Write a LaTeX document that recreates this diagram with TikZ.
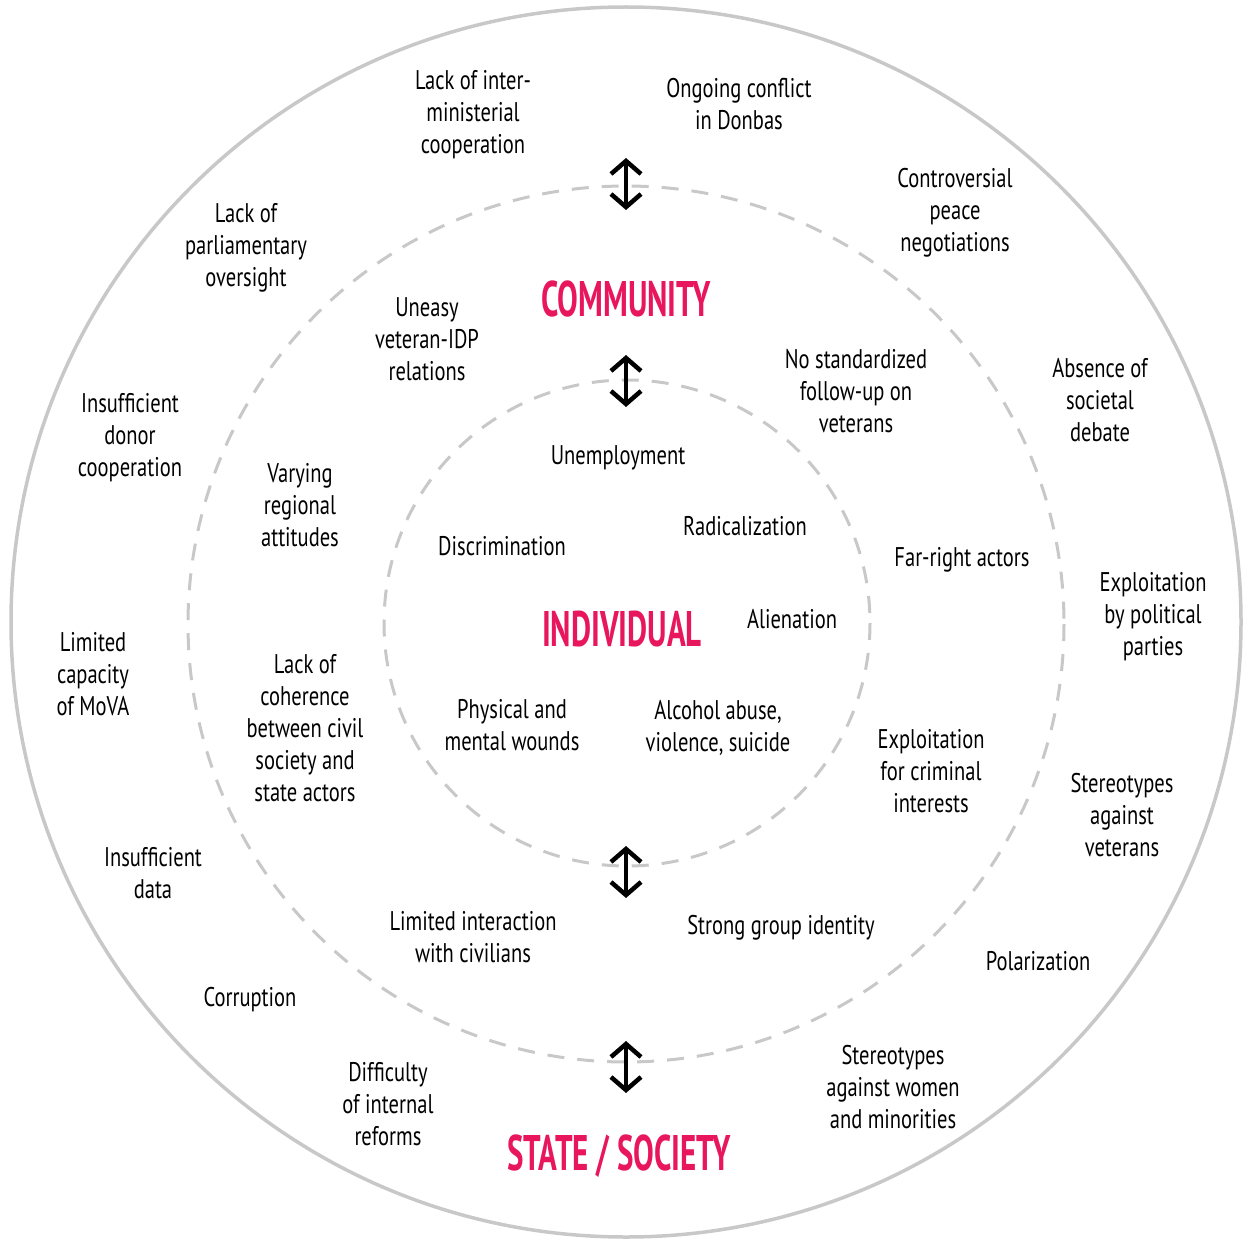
\documentclass[tikz,border=0pt]{standalone}
\usepackage{fontspec}
\setmainfont{PT Sans}[FakeStretch=0.76]
\newfontfamily\titlefont{PT Sans}[FakeStretch=0.62]
\usetikzlibrary{arrows.meta}
\definecolor{ringgray}{HTML}{C8C8C8}
\definecolor{titlered}{HTML}{E8175D}
\tikzset{
  lbl/.style={align=center, font=\fontsize{27}{32}\selectfont, inner sep=0pt},
  ttl/.style={font=\titlefont\bfseries\fontsize{50}{54}\selectfont, text=titlered, inner sep=0pt},
  ring/.style={draw=ringgray, line width=3.5pt},
  dring/.style={draw=ringgray, line width=3pt, dash pattern=on 17pt off 13pt},
  dbl/.style={draw=black, line width=4pt, {Straight Barb[length=13pt,width=30pt,line width=4.5pt]}-{Straight Barb[length=13pt,width=30pt,line width=4.5pt]}}
}
\begin{document}
\begin{tikzpicture}[x=1pt,y=-1pt]
\useasboundingbox (0,0) rectangle (1251,1244);
\coordinate (c) at (626,622);
\draw[ring] (c) circle[radius=615];
\draw[dring] (626,624) circle[radius=438];
\draw[dring] (627,623) circle[radius=243];
% arrows
\coordinate (a1s) at (626,158); \coordinate (a1e) at (626,210);
\coordinate (a2s) at (626,355); \coordinate (a2e) at (626,407);
\coordinate (a3s) at (626,846); \coordinate (a3e) at (626,898);
\coordinate (a4s) at (626,1041); \coordinate (a4e) at (626,1093);
\draw[dbl] (a1s) -- (a1e);
\draw[dbl] (a2s) -- (a2e);
\draw[dbl] (a3s) -- (a3e);
\draw[dbl] (a4s) -- (a4e);
% titles
\node[ttl] (community) at (626,299) {COMMUNITY};
\node[ttl] (individual) at (622,629) {INDIVIDUAL};
\node[ttl] (state) at (619,1156) {STATE / SOCIETY};
% outer ring
\node[lbl] (o1) at (473,115) {Lack of inter-\\ministerial\\cooperation};
\node[lbl] (o2) at (739,104) {Ongoing conflict\\in Donbas};
\node[lbl] (o3) at (955,213) {Controversial\\peace\\negotiations};
\node[lbl] (o4) at (1100,400) {Absence of\\societal\\debate};
\node[lbl] (o5) at (1153,617) {Exploitation\\by political\\parties};
\node[lbl] (o6) at (1122,815) {Stereotypes\\against\\veterans};
\node[lbl] (o7) at (1038,961) {Polarization};
\node[lbl] (o8) at (893,1087) {Stereotypes\\against women\\and minorities};
\node[lbl] (o9) at (388,1104) {Difficulty\\of internal\\reforms};
\node[lbl] (o10) at (250,1000) {Corruption};
\node[lbl] (o11) at (153,873) {Insufficient\\data};
\node[lbl] (o12) at (93,674) {Limited\\capacity\\of MoVA};
\node[lbl] (o13) at (130,438) {Insufficient\\donor\\cooperation};
\node[lbl] (o14) at (246,248) {Lack of\\parliamentary\\oversight};
% community ring
\node[lbl] (m1) at (427,339) {Uneasy\\veteran-IDP\\relations};
\node[lbl] (m2) at (856,391) {No standardized\\follow-up on\\veterans};
\node[lbl] (m3) at (962,560) {Far-right actors};
\node[lbl] (m4) at (931,771) {Exploitation\\for criminal\\interests};
\node[lbl] (m5) at (781,928) {Strong group identity};
\node[lbl] (m6) at (473,937) {Limited interaction\\with civilians};
\node[lbl] (m7) at (305,728) {Lack of\\coherence\\between civil\\society and\\state actors};
\node[lbl] (m8) at (300,505) {Varying\\regional\\attitudes};
% individual
\node[lbl] (i1) at (618,458) {Unemployment};
\node[lbl] (i2) at (502,546) {Discrimination};
\node[lbl] (i3) at (745,526) {Radicalization};
\node[lbl] (i4) at (792,619) {Alienation};
\node[lbl] (i5) at (512,725) {Physical and\\mental wounds};
\node[lbl] (i6) at (718,728) {Alcohol abuse,\\violence, suicide};
\end{tikzpicture}
\end{document}
